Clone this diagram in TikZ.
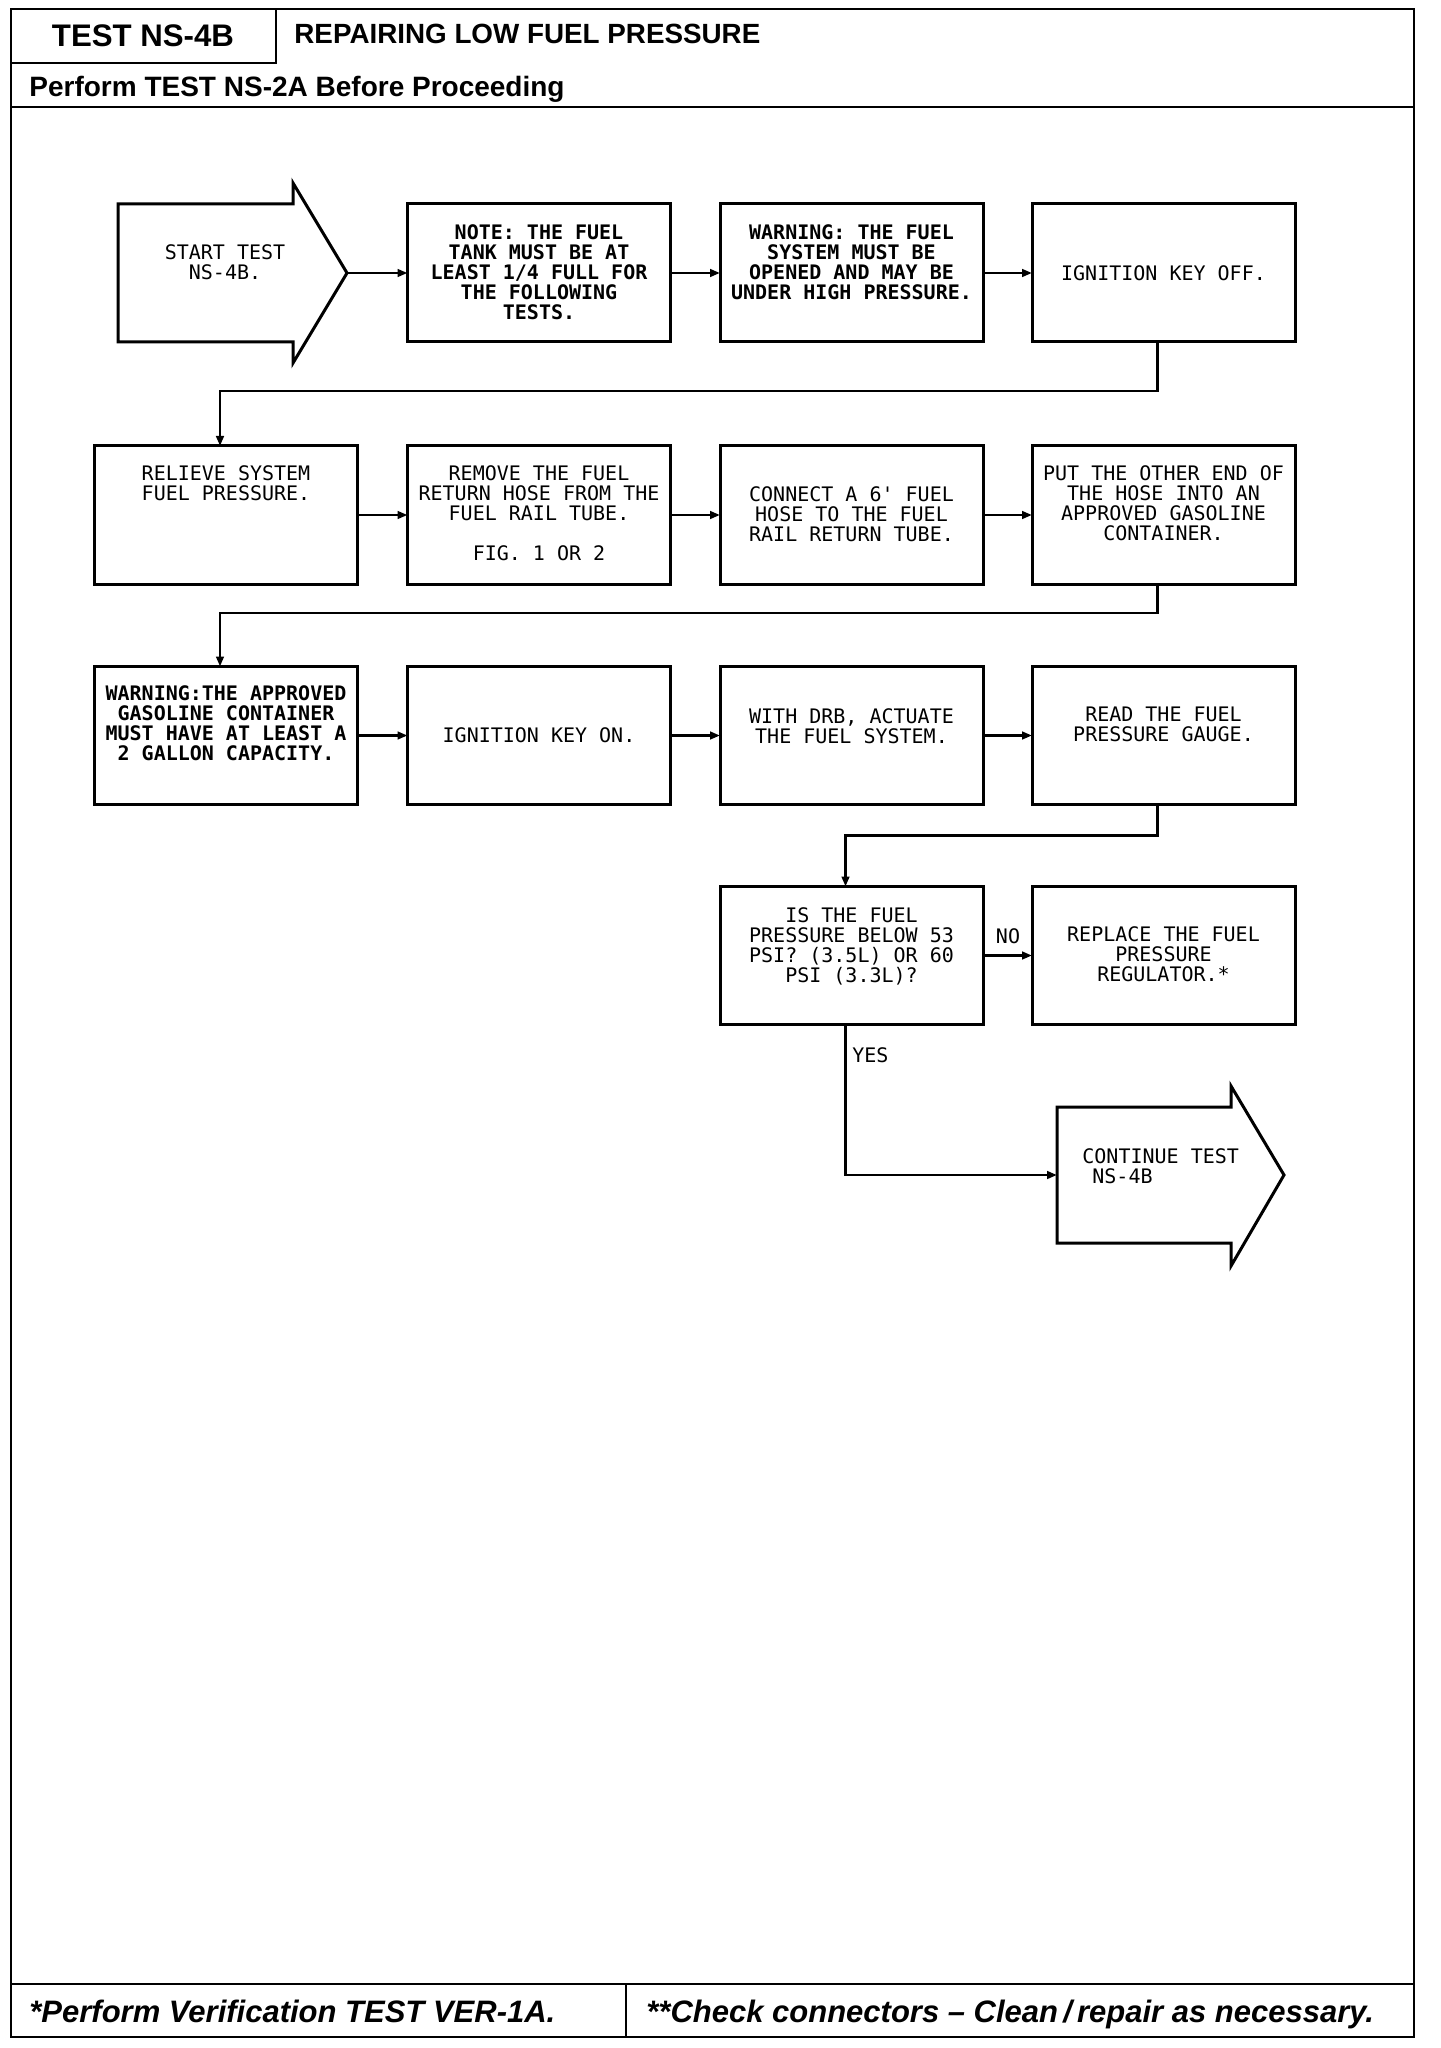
\documentclass[tikz,border=0pt]{standalone}
\usepackage{fontspec}
\setmainfont{Liberation Sans}
\newfontfamily\plotfont{DejaVu Sans Mono}
\usetikzlibrary{arrows.meta,positioning}

\begin{document}
\begin{tikzpicture}[x=0.5pt, y=-0.5pt,
  sheetline/.style={line width=1.4pt},
  stepbox/.style={draw, line width=1.5pt, minimum width=131.5pt, minimum height=69pt, inner sep=0pt, outer sep=0pt},
  arrowbody/.style={minimum width=87.5pt, minimum height=69pt, inner sep=0pt, outer sep=0pt},
  arrowline/.style={line width=1.5pt, line join=miter},
  boxtext/.style={font=\plotfont\fontsize{10}{10}\selectfont, align=center, inner sep=0pt},
  boldtext/.style={boxtext, font=\plotfont\bfseries\fontsize{10}{10}\selectfont},
  flow/.style={line width=1.3pt, -{Triangle[length=5pt,width=3.8pt]}}]
\useasboundingbox (0,0) rectangle (1440,2048);
% ---------- sheet frame, header and footer ----------
\draw[sheetline] (11,9) rectangle (1414,2037);
\draw[sheetline] (276,9) -- (276,63) -- (11,63);
\draw[sheetline] (11,107) -- (1414,107);
\draw[sheetline] (11,1984) -- (1414,1984);
\draw[sheetline] (626,1984) -- (626,2037);
\node[anchor=base, inner sep=0pt, font=\bfseries\fontsize{15.6}{18}\selectfont] (testid) at (143,47) {TEST NS-4B};
\node[anchor=base west, inner sep=0pt, font=\bfseries\fontsize{13.9}{16}\selectfont] (title) at (294,44) {REPAIRING LOW FUEL PRESSURE};
\node[anchor=base west, inner sep=0pt, font=\bfseries\fontsize{14}{16}\selectfont] (pretest) at (29,97) {Perform TEST NS-2A Before Proceeding};
\node[anchor=base west, inner sep=0pt, font=\bfseries\itshape\fontsize{15.5}{18}\selectfont] (footA) at (29,2022) {*Perform Verification TEST VER-1A.};
\node[anchor=base west, inner sep=0pt, font=\bfseries\itshape\fontsize{15.5}{18}\selectfont] (footB) at (646,2022) {**Check connectors -- Clean\,/\,repair as necessary.};
% ---------- Row 1 ----------
\node[arrowbody] (start) at (205.5,273) {};
\coordinate (starttip) at (347,273);
\draw[arrowline] (start.south west) -- (start.north west) -- (start.north east) -- ++(0,-21) -- (starttip) -- ++(-54,90) -- ++(0,-21) -- cycle;
\node[boxtext, anchor=north] (starttext) at (225,244.5) {START TEST\\NS-4B.};
\node[stepbox] (b2) at (539,273) {};
\node[stepbox] (b3) at (851.5,273) {};
\node[stepbox] (b4) at (1163.5,273) {};
\node[boldtext, below=10pt of b2.north] (t2) {NOTE: THE FUEL\\TANK MUST BE AT\\LEAST 1/4 FULL FOR\\THE FOLLOWING\\TESTS.};
\node[boldtext, below=10pt of b3.north] (t3) {WARNING: THE FUEL\\SYSTEM MUST BE\\OPENED AND MAY BE\\UNDER HIGH PRESSURE.};
\node[boxtext] (t4) at (b4) {IGNITION KEY OFF.};
% ---------- Row 2 ----------
\node[stepbox] (b5) at (226,515) {};
\node[stepbox] (b6) at (539,515) {};
\node[stepbox] (b7) at (851.5,515) {};
\node[stepbox] (b8) at (1163.5,515) {};
\node[boxtext, below=9.75pt of b5.north] (t5) {RELIEVE SYSTEM\\FUEL PRESSURE.};
\node[boxtext, below=9.75pt of b6.north] (t6) {REMOVE THE FUEL\\RETURN HOSE FROM THE\\FUEL RAIL TUBE.\\[10pt]FIG. 1 OR 2};
\node[boxtext, below=20.25pt of b7.north] (t7) {CONNECT A 6' FUEL\\HOSE TO THE FUEL\\RAIL RETURN TUBE.};
\node[boxtext, below=9.5pt of b8.north] (t8) {PUT THE OTHER END OF\\THE HOSE INTO AN\\APPROVED GASOLINE\\CONTAINER.};
% ---------- Row 3 ----------
\node[stepbox] (b9) at (226,735.5) {};
\node[stepbox] (b10) at (539,735.5) {};
\node[stepbox] (b11) at (851.5,735.5) {};
\node[stepbox] (b12) at (1163.5,735.5) {};
\node[boldtext, below=9.5pt of b9.north] (t9) {WARNING:THE APPROVED\\GASOLINE CONTAINER\\MUST HAVE AT LEAST A\\2 GALLON CAPACITY.};
\node[boxtext] (t10) at (b10) {IGNITION KEY ON.};
\node[boxtext, below=20.75pt of b11.north] (t11) {WITH DRB, ACTUATE\\THE FUEL SYSTEM.};
\node[boxtext, below=20pt of b12.north] (t12) {READ THE FUEL\\PRESSURE GAUGE.};
% ---------- Row 4 and exit ----------
\node[stepbox] (b13) at (851.5,955.5) {};
\node[stepbox] (b14) at (1163.5,955.5) {};
\node[boxtext, below=10.25pt of b13.north] (t13) {IS THE FUEL\\PRESSURE BELOW 53\\PSI? (3.5L) OR 60\\PSI (3.3L)?};
\node[boxtext, below=19.75pt of b14.north] (t14) {REPLACE THE FUEL\\PRESSURE\\REGULATOR.*};
\node[arrowbody, minimum width=87pt, minimum height=68pt] (cont) at (1144,1175) {};
\coordinate (conttip) at (1284,1175);
\draw[arrowline] (cont.south west) -- (cont.north west) -- (cont.north east) -- ++(0,-21) -- (conttip) -- ++(-53,91) -- ++(0,-23) -- cycle;
\node[boxtext, align=left, anchor=north west] (conttext) at (1082,1148.5) {CONTINUE TEST\\\hspace*{5pt}NS-4B};
% ---------- connectors ----------
\draw[flow] (starttip) -- (b2.west);
\draw[flow] (b2.east) -- (b3.west);
\draw[flow] (b3.east) -- (b4.west);
\draw[flow] ([xshift=-3pt]b4.south) -- ++(0,49) -| ([xshift=-3pt]b5.north);
\draw[flow] (b5.east) -- (b6.west);
\draw[flow] (b6.east) -- (b7.west);
\draw[flow] (b7.east) -- (b8.west);
\draw[flow] ([xshift=-3pt]b8.south) -- ++(0,29) -| ([xshift=-3pt]b9.north);
\draw[flow] (b9.east) -- (b10.west);
\draw[flow] (b10.east) -- (b11.west);
\draw[flow] (b11.east) -- (b12.west);
\draw[flow] ([xshift=-3pt]b12.south) -- ++(0,31) -| ([xshift=-3pt]b13.north);
\draw[flow] (b13.east) -- (b14.west);
\draw[flow] ([xshift=-3pt]b13.south) |- (cont.west);
\node[boxtext] (no) at (1008,936) {NO};
\node[boxtext, anchor=west] (yes) at (852,1055) {YES};
\end{tikzpicture}
\end{document}
